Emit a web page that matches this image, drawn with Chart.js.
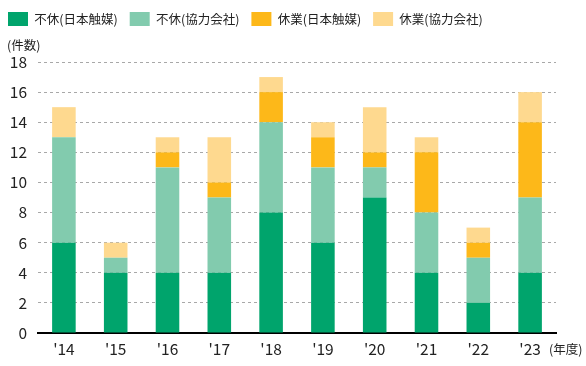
<!DOCTYPE html>
<html><head><meta charset="utf-8">
<script src="https://cdn.jsdelivr.net/npm/chart.js@4/dist/chart.umd.min.js"></script>
<style>html,body{margin:0;padding:0;background:#fff}#wrap{width:586px;height:366px}</style>
</head><body><div id="wrap"><canvas id="c" width="586" height="366"></canvas></div>
<script>
const categories = ["'14","'15","'16","'17","'18","'19","'20","'21","'22","'23"];
const seriesNames = ["不休(日本触媒)","不休(協力会社)","休業(日本触媒)","休業(協力会社)"];
const lostFreeNS = [6,4,4,4,8,6,9,4,2,4];
const lostFreeContract = [7,1,7,5,6,5,2,4,3,5];
const lostTimeNS = [0,0,1,1,2,2,1,4,1,5];
const lostTimeContract = [2,1,1,3,1,1,3,1,1,2];
const yTicks = [0,2,4,6,8,10,12,14,16,18];
const colors = ["#00A46C","#82CBAE","#FDB819","#FED98F"];
const FONT = "'Noto Sans CJK JP', 'Noto Sans', sans-serif";

const extraText = {
  id: 'extraText',
  beforeInit(chart) {
    const lg = chart.legend;
    if (lg) {
      const orig = lg.fit.bind(lg);
      lg.fit = function() { orig(); this.height = 62; };
    }
  },
  afterLayout(chart) {
    if (chart.legend) { chart.legend.left -= 4; chart.legend.right -= 4; }
  },
  afterDraw(chart) {
    const ctx = chart.ctx;
    ctx.save();
    ctx.fillStyle = '#222';
    ctx.font = "12.5px " + FONT;
    ctx.textBaseline = 'middle';
    ctx.textAlign = 'left';
    ctx.fillText('(件数)', 7, 45);
    ctx.fillText('(年度)', 549, 349);
    ctx.restore();
  }
};

new Chart(document.getElementById('c'), {
  type: 'bar',
  data: {
    labels: categories,
    datasets: [
      {label: seriesNames[0], data: lostFreeNS, backgroundColor: colors[0]},
      {label: seriesNames[1], data: lostFreeContract, backgroundColor: colors[1]},
      {label: seriesNames[2], data: lostTimeNS, backgroundColor: colors[2]},
      {label: seriesNames[3], data: lostTimeContract, backgroundColor: colors[3]}
    ]
  },
  options: {
    responsive: false,
    animation: false,
    devicePixelRatio: 1,
    layout: {padding: {left: 0, right: 30, top: 0, bottom: 0}},
    datasets: {bar: {barPercentage: 0.455, categoryPercentage: 1, borderWidth: 0}},
    plugins: {
      legend: {
        position: 'top', align: 'start',
        labels: {boxWidth: 20, boxHeight: 14, padding: 12, color: '#222', font: {family: FONT, size: 12.5}}
      },
      tooltip: {enabled: false}
    },
    scales: {
      x: {
        stacked: true,
        grid: {display: false, drawTicks: false},
        border: {display: true, color: '#000', width: 2},
        ticks: {color: '#222', padding: 7, font: {family: FONT, size: 15.5}},
        afterFit(s) { s.height = 33; }
      },
      y: {
        stacked: true, min: 0, max: 18,
        afterBuildTicks(s) { s.ticks = yTicks.map(v => ({value: v})); },
        grid: {color: '#a8a8a8', lineWidth: 1, drawTicks: false},
        border: {display: false, dash: [3,3]},
        ticks: {color: '#222', padding: 11, font: {family: FONT, size: 15.5}},
        afterFit(s) { s.width = 38; }
      }
    }
  },
  plugins: [extraText]
});
</script></body></html>
